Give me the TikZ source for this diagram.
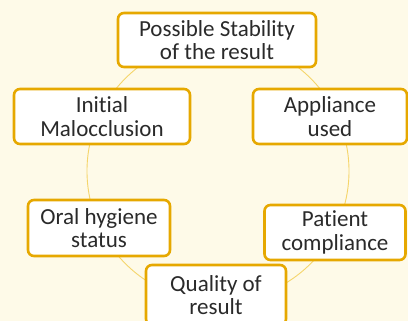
\documentclass[tikz,border=0pt]{standalone}
\usepackage{fontspec}
\setmainfont{Carlito}[Ligatures=NoCommon]
\definecolor{bgc}{HTML}{FEFAE8}
\definecolor{gold}{HTML}{E6A800}
\definecolor{ring}{HTML}{F5D56A}
\definecolor{txt}{HTML}{2A2A2A}
\begin{document}
\begin{tikzpicture}[x=1pt,y=-1pt,
  box/.style={draw=gold, line width=2.6pt, fill=white, rounded corners=6pt,
    align=center, font=\fontsize{23}{23.5}\selectfont, text=txt, inner sep=0pt}]
\fill[bgc] (0,0) rectangle (408,321);
\useasboundingbox (0,0) rectangle (408,321);
\draw[ring, line width=0.9pt] (218,171) circle[radius=131];
\node[box, minimum width=198pt, minimum height=54pt] (stab) at (217,40) {Possible Stability\\of the result};
\node[box, minimum width=176pt, minimum height=55pt] (init) at (102,116.5) {Initial\\Malocclusion};
\node[box, minimum width=154pt, minimum height=55pt] (appl) at (330,116.5) {Appliance\\used};
\node[box, minimum width=142pt, minimum height=56pt] (oral) at (99,228) {Oral hygiene\\status};
\node[box, minimum width=141pt, minimum height=55pt] (pat) at (335,232.5) {Patient\\compliance};
\node[box, minimum width=140pt, minimum height=60pt] (qual) at (216,295) {Quality of\\result};
\end{tikzpicture}
\end{document}
